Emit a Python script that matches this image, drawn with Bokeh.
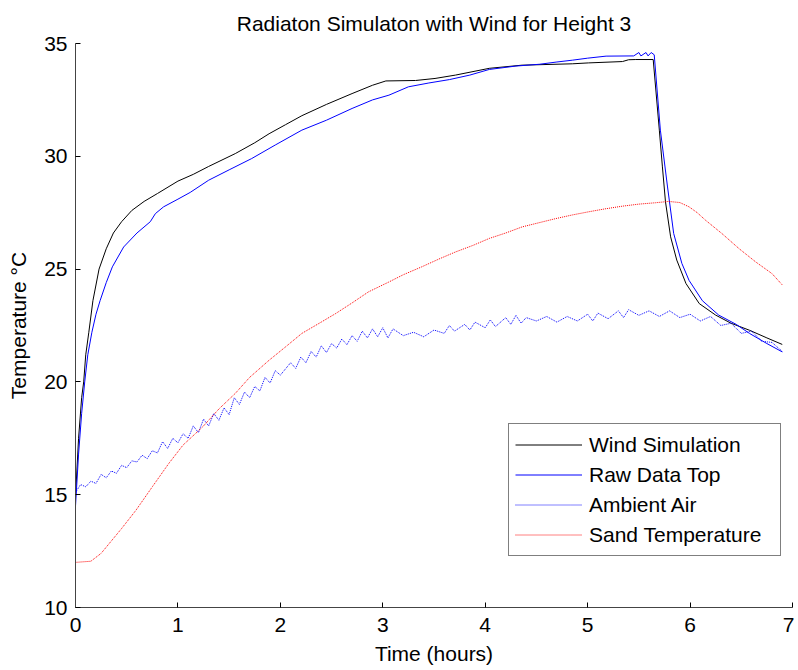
from bokeh.plotting import figure
from bokeh.models import Range1d, Legend, LegendItem, FixedTicker
from bokeh.embed import file_html
from bokeh.resources import INLINE

# ---- data ----
wind_t = [0.00, 0.03, 0.06, 0.08, 0.10, 0.13, 0.17, 0.23, 0.30, 0.37, 0.45, 0.55, 0.67, 0.80,
          1.00, 1.15, 1.30, 1.56, 1.75, 1.89, 2.05, 2.21, 2.45, 2.70, 2.90, 3.03, 3.32, 3.51,
          3.71, 4.04, 4.36, 4.85, 5.01, 5.34, 5.40, 5.47, 5.64, 5.70, 5.73, 5.76, 5.81, 5.87,
          5.96, 6.09, 6.25, 6.40, 6.58, 6.75, 6.90]
wind_T = [14.9, 17.5, 19.3, 20.0, 21.2, 22.2, 23.6, 25.0, 25.9, 26.6, 27.1, 27.6, 28.0, 28.35,
          28.9, 29.2, 29.55, 30.12, 30.6, 31.0, 31.4, 31.8, 32.3, 32.78, 33.15, 33.34, 33.36, 33.45,
          33.6, 33.9, 34.04, 34.1, 34.14, 34.2, 34.28, 34.29, 34.29, 31.16, 29.53, 27.98, 26.43, 25.4,
          24.36, 23.47, 22.96, 22.6, 22.29, 21.95, 21.66]

raw_t = [0.00, 0.03, 0.06, 0.09, 0.12, 0.16, 0.20, 0.24, 0.30, 0.36, 0.47, 0.60, 0.73, 0.78,
         0.86, 1.00, 1.12, 1.30, 1.50, 1.72, 1.95, 2.21, 2.45, 2.70, 2.90, 3.06, 3.25, 3.45,
         3.65, 3.85, 4.04, 4.30, 4.53, 4.70, 4.85, 5.00, 5.18, 5.45, 5.50, 5.52, 5.57, 5.59,
         5.62, 5.65, 5.71, 5.78, 5.84, 5.92, 5.99, 6.12, 6.28, 6.45, 6.58, 6.75, 6.90]
raw_T = [14.5, 16.8, 18.6, 20.0, 21.2, 22.2, 23.0, 23.6, 24.4, 25.1, 25.98, 26.6, 27.1, 27.46,
         27.76, 28.1, 28.4, 28.94, 29.4, 29.9, 30.5, 31.16, 31.6, 32.12, 32.5, 32.71, 33.08, 33.25,
         33.4, 33.6, 33.85, 34.0, 34.08, 34.18, 34.26, 34.35, 34.44, 34.45, 34.6, 34.45, 34.6, 34.45,
         34.6, 34.5, 31.16, 28.64, 26.58, 25.25, 24.5, 23.6, 22.96, 22.55, 22.15, 21.7, 21.33]

air_t = [0.0, 0.05, 0.1, 0.15, 0.2, 0.25, 0.3, 0.35, 0.4, 0.45, 0.5, 0.55, 0.6, 0.65, 0.7, 0.75,
         0.8, 0.85, 0.9, 0.95, 1.0, 1.05, 1.1, 1.15, 1.2, 1.25, 1.3, 1.35, 1.4, 1.45, 1.5, 1.55,
         1.6, 1.65, 1.7, 1.75, 1.8, 1.85, 1.9, 1.95, 2.0, 2.1, 2.15, 2.2, 2.25, 2.3, 2.35, 2.4,
         2.45, 2.5, 2.55, 2.6, 2.65, 2.7, 2.75, 2.8, 2.85, 2.9, 2.95, 3.0, 3.05, 3.1, 3.2, 3.3,
         3.4, 3.5, 3.6, 3.65, 3.7, 3.8, 3.85, 3.9, 4.0, 4.05, 4.1, 4.2, 4.25, 4.3, 4.35, 4.4,
         4.5, 4.6, 4.7, 4.8, 4.9, 5.0, 5.05, 5.1, 5.2, 5.3, 5.35, 5.4, 5.5, 5.6, 5.7, 5.8,
         5.9, 6.0, 6.1, 6.2, 6.3, 6.4, 6.5, 6.6, 6.7, 6.8, 6.9]
air_T = [15.1, 15.45, 15.35, 15.6, 15.5, 15.9, 15.75, 16.05, 15.95, 16.3, 16.2, 16.5, 16.45, 16.75, 16.6, 16.95,
         16.85, 17.35, 17.05, 17.5, 17.3, 17.7, 17.5, 18.05, 17.75, 18.35, 18.05, 18.6, 18.3, 18.85, 18.55, 19.3,
         19.0, 19.55, 19.3, 19.8, 19.6, 20.2, 19.95, 20.5, 20.3, 20.85, 20.6, 21.1, 20.85, 21.35, 21.1, 21.6,
         21.3, 21.7, 21.5, 21.9, 21.65, 22.05, 21.8, 22.25, 21.95, 22.35, 22.0, 22.4, 21.95, 22.35, 22.05, 22.2,
         22.0, 22.3, 22.15, 22.5, 22.25, 22.55, 22.3, 22.65, 22.4, 22.75, 22.45, 22.85, 22.55, 22.95, 22.6, 22.85,
         22.7, 22.9, 22.65, 22.9, 22.7, 23.0, 22.7, 23.05, 22.8, 23.15, 22.85, 23.2, 22.95, 23.15, 22.9, 23.15,
         22.85, 23.0, 22.7, 22.9, 22.5, 22.6, 22.15, 22.25, 21.8, 21.75, 21.35]

sand_t = [0.0, 0.15, 0.25, 0.33, 0.45, 0.59, 0.75, 0.91, 1.05, 1.24, 1.4, 1.56, 1.7, 1.89, 2.05,
          2.21, 2.38, 2.54, 2.7, 2.86, 3.06, 3.2, 3.38, 3.55, 3.71, 3.88, 4.04, 4.2, 4.36, 4.52,
          4.69, 4.85, 5.01, 5.17, 5.34, 5.5, 5.66, 5.79, 5.9, 5.99, 6.07, 6.15, 6.31, 6.48, 6.64,
          6.80, 6.90]
sand_T = [12.0, 12.05, 12.4, 12.84, 13.5, 14.31, 15.35, 16.38, 17.2, 18.0, 18.8, 19.49, 20.2, 20.96, 21.55,
          22.15, 22.6, 23.03, 23.5, 23.99, 24.43, 24.75, 25.1, 25.45, 25.76, 26.05, 26.36, 26.6, 26.87, 27.05,
          27.24, 27.4, 27.54, 27.67, 27.79, 27.88, 27.94, 28.0, 27.95, 27.76, 27.5, 27.17, 26.58, 25.9, 25.32,
          24.8, 24.3]

x_ticks = [0, 1, 2, 3, 4, 5, 6, 7]
y_ticks = [10, 15, 20, 25, 30, 35]
series_names = ["Wind Simulation", "Raw Data Top", "Ambient Air", "Sand Temperature"]

FONT = "Liberation Sans"

p = figure(width=794, height=668, output_backend="svg", toolbar_location=None,
           x_range=Range1d(0, 7), y_range=Range1d(10, 35),
           min_border_left=75, min_border_right=2, min_border_top=42, min_border_bottom=61,
           title="Radiaton Simulaton with Wind for Height 3")
p.title.text_font = FONT
p.title.text_font_size = "21px"
p.title.text_font_style = "normal"
p.title.align = "center"
p.title.text_color = "#000000"
p.title.standoff = 18

p.outline_line_color = None
p.grid.visible = False
p.background_fill_color = "white"

for ax in (p.xaxis[0], p.yaxis[0]):
    ax.axis_line_color = "#444444"
    ax.axis_line_width = 1
    ax.major_tick_in = 5
    ax.major_tick_out = 0
    ax.major_tick_line_color = "#000000"
    ax.minor_tick_in = 0
    ax.minor_tick_out = 0
    ax.major_label_text_font = FONT
    ax.major_label_text_font_size = "21px"
    ax.major_label_text_color = "#000000"
    ax.axis_label_text_font = FONT
    ax.axis_label_text_font_size = "21px"
    ax.axis_label_text_font_style = "normal"
    ax.axis_label_text_color = "#000000"

p.xaxis[0].ticker = FixedTicker(ticks=x_ticks)
p.yaxis[0].ticker = FixedTicker(ticks=y_ticks)
p.xaxis[0].axis_label = "Time (hours)"
p.yaxis[0].axis_label = "Temperature °C"
p.xaxis[0].major_label_standoff = 10
p.xaxis[0].axis_label_standoff = 7
p.yaxis[0].major_label_standoff = 8
p.yaxis[0].axis_label_standoff = 11

r_wind = p.line(wind_t, wind_T, line_color="#000000", line_width=1)
r_raw = p.line(raw_t, raw_T, line_color="#0000ff", line_width=1)
r_air = p.line(air_t, air_T, line_color="#0000ff", line_width=1, line_dash="1 1")
r_sand = p.line(sand_t, sand_T, line_color="#ff0000", line_width=1, line_dash="1 1")

legend = Legend(items=[LegendItem(label=series_names[0], renderers=[r_wind]),
                       LegendItem(label=series_names[1], renderers=[r_raw]),
                       LegendItem(label=series_names[2], renderers=[r_air]),
                       LegendItem(label=series_names[3], renderers=[r_sand])],
                location=(433, 51))
legend.label_text_font = FONT
legend.label_text_font_size = "21px"
legend.label_text_color = "#000000"
legend.glyph_width = 67
legend.glyph_height = 29
legend.label_height = 29
legend.label_width = 185
legend.label_standoff = 7
legend.spacing = 1
legend.padding = 6
legend.margin = 0
legend.border_line_color = "#000000"
legend.border_line_width = 1
legend.background_fill_color = "white"
legend.background_fill_alpha = 1
p.add_layout(legend, "center")

open("out.html", "w").write(file_html(p, INLINE))
